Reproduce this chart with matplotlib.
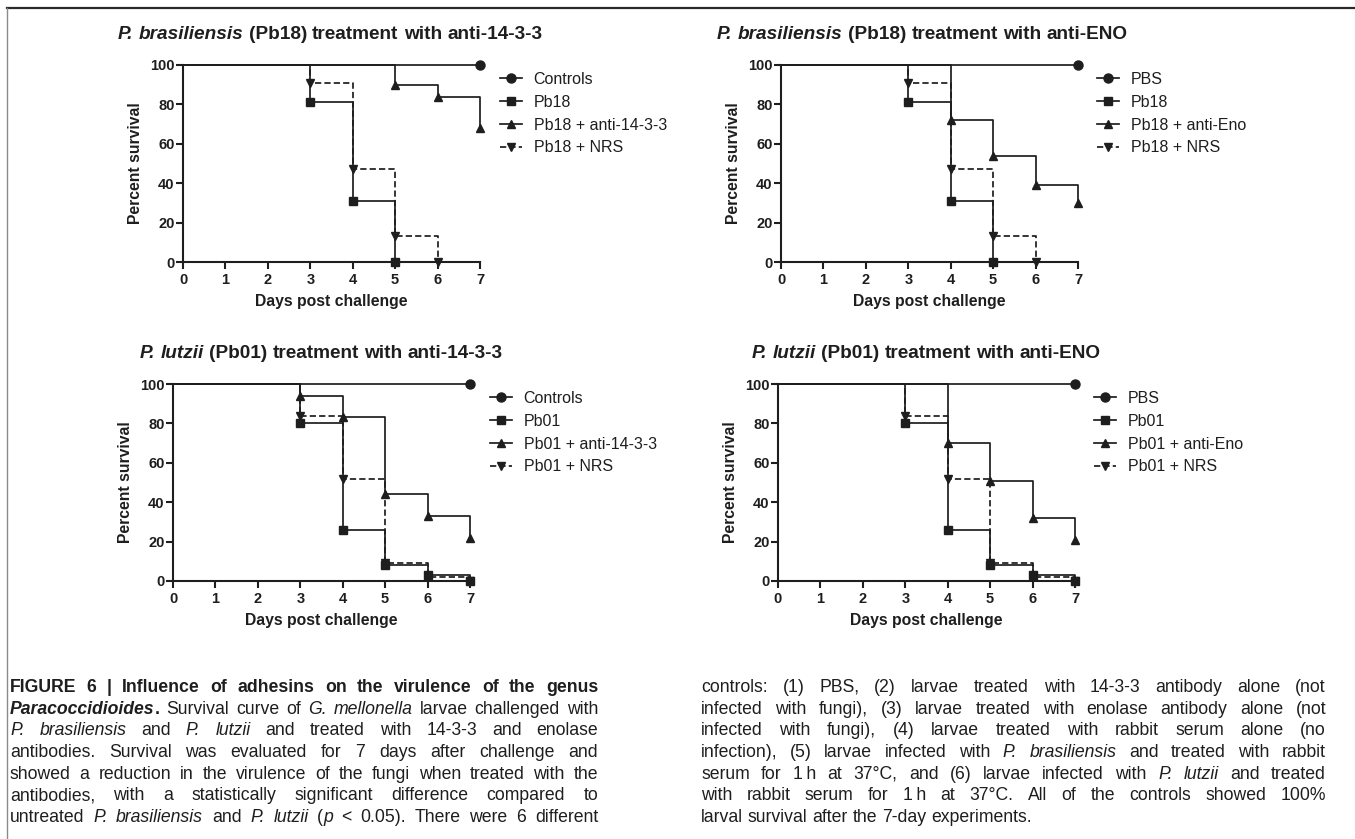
import matplotlib
matplotlib.use("Agg")
import matplotlib.pyplot as plt
from matplotlib.lines import Line2D

plt.rcParams['font.family'] = ['Liberation Sans', 'DejaVu Sans']

W, H = 1355, 839
INK = '#1e1e1e'

# ---- data (percent survival at each event day) ----
ctrl_days = [0, 7]
ctrl_surv = [100, 100]

# P. brasiliensis (Pb18)
pb18_days = [0, 3, 4, 5]
pb18_surv = [100, 81, 31, 0]
pb18_nrs_days = [0, 3, 4, 5, 6]
pb18_nrs_surv = [100, 91, 47, 13, 0]
pb18_1433_days = [0, 5, 6, 7]
pb18_1433_surv = [100, 90, 84, 68]
pb18_eno_days = [0, 4, 5, 6, 7]
pb18_eno_surv = [100, 72, 54, 39, 30]

# P. lutzii (Pb01)
pb01_days = [0, 3, 4, 5, 6, 7]
pb01_surv = [100, 80, 26, 8, 3, 0]
pb01_nrs_days = [0, 3, 4, 5, 6, 7]
pb01_nrs_surv = [100, 84, 52, 9, 2, 0]
pb01_1433_days = [0, 3, 4, 5, 6, 7]
pb01_1433_surv = [100, 94, 83, 44, 33, 22]
pb01_eno_days = [0, 4, 5, 6, 7]
pb01_eno_surv = [100, 70, 51, 32, 21]

x_ticks = [0, 1, 2, 3, 4, 5, 6, 7]
y_ticks = [0, 20, 40, 60, 80, 100]

fig = plt.figure(figsize=(W / 100, H / 100), dpi=100)
rend = fig.canvas.get_renderer()


def fx(x):
    return x / W


def fy(y):
    return 1 - y / H


STYLES = {'n': ('normal', 'normal'), 'b': ('bold', 'normal'),
          'i': ('normal', 'italic'), 'bi': ('bold', 'italic')}


def split_words(segs):
    words = [[]]
    for txt, st in segs:
        parts = txt.split(' ')
        for k, p in enumerate(parts):
            if k > 0:
                words.append([])
            if p:
                words[-1].append((p, st))
    return [w for w in words if w]


def rich(x, y, segs, size, family, width=None):
    # words placed one by one, baseline at pixel y; gaps stretched if width given
    words = split_words(segs)
    arts = []
    for w in words:
        wa = []
        for txt, st in w:
            wt, sl = STYLES[st]
            wa.append(fig.text(0, 0, txt, fontsize=size, family=family, fontweight=wt,
                               fontstyle=sl, va='baseline', ha='left', color=INK))
        arts.append(wa)
    probe1 = fig.text(0, 0, 'a a', fontsize=size, family=family)
    probe2 = fig.text(0, 0, 'aa', fontsize=size, family=family)
    space = probe1.get_window_extent(rend).width - probe2.get_window_extent(rend).width
    probe1.remove()
    probe2.remove()
    widths = [[t.get_window_extent(rend).width for t in wa] for wa in arts]
    total = sum(sum(ws) for ws in widths)
    gap = space
    if width is not None and len(arts) > 1:
        gap = (width - total) / (len(arts) - 1)
    cx = x
    for wa, ws in zip(arts, widths):
        for t, wdt in zip(wa, ws):
            t.set_position((fx(cx), fy(y)))
            cx += wdt
        cx += gap


def panel(left, bottom, title_x, title_segs, leg_x, leg_y, series):
    ax = fig.add_axes([fx(left), fy(bottom), 297 / W, 197 / H])
    for days, surv, label, mk, ls in series:
        ax.plot(days, surv, drawstyle='steps-post', color=INK, lw=1.25, ls=ls,
                marker=mk, ms=6.5 if mk == 'o' else 6, markevery=slice(1, None),
                clip_on=False, label=label, dash_capstyle='butt')
    ax.set_xlim(0, 7)
    ax.set_ylim(0, 100)
    for s in ['top', 'right']:
        ax.spines[s].set_visible(False)
    for s in ['left', 'bottom']:
        ax.spines[s].set_linewidth(1.5)
        ax.spines[s].set_color(INK)
    ax.set_xticks(x_ticks, labels=[str(v) for v in x_ticks], fontweight='bold', fontsize=10.5)
    ax.set_yticks(y_ticks, labels=[str(v) for v in y_ticks], fontweight='bold', fontsize=10.5)
    ax.tick_params(axis='x', length=5, width=1.5, pad=3, colors=INK)
    ax.tick_params(axis='y', length=5, width=1.5, pad=1, colors=INK)
    ax.set_xlabel('Days post challenge', fontweight='bold', fontsize=11.3, labelpad=5, color=INK)
    ax.set_ylabel('Percent survival', fontweight='bold', fontsize=11.3, labelpad=5, color=INK)
    ax.patch.set_alpha(0)
    leg = ax.legend(loc='upper left', bbox_to_anchor=(fx(leg_x), fy(leg_y)),
                    bbox_transform=fig.transFigure, frameon=False, fontsize=11.5,
                    borderpad=0, borderaxespad=0, handlelength=1.4,
                    handletextpad=0.7, labelspacing=0.49)
    for t in leg.get_texts():
        t.set_color(INK)
    rich(title_x, bottom - 223, title_segs, 13.7, ['Liberation Sans', 'DejaVu Sans'])
    return ax


dash = (0, (3.6, 1.8))

panel(183, 262, 118,
      [('P. brasiliensis', 'bi'), (' (Pb18) treatment with anti-14-3-3', 'b')],
      500, 72,
      [(ctrl_days, ctrl_surv, 'Controls', 'o', '-'),
       (pb18_days, pb18_surv, 'Pb18', 's', '-'),
       (pb18_1433_days, pb18_1433_surv, 'Pb18 + anti-14-3-3', '^', '-'),
       (pb18_nrs_days, pb18_nrs_surv, 'Pb18 + NRS', 'v', dash)])

panel(781, 262, 717,
      [('P. brasiliensis', 'bi'), (' (Pb18) treatment with anti-ENO', 'b')],
      1097, 72,
      [(ctrl_days, ctrl_surv, 'PBS', 'o', '-'),
       (pb18_days, pb18_surv, 'Pb18', 's', '-'),
       (pb18_eno_days, pb18_eno_surv, 'Pb18 + anti-Eno', '^', '-'),
       (pb18_nrs_days, pb18_nrs_surv, 'Pb18 + NRS', 'v', dash)])

panel(173, 581, 140,
      [('P. lutzii', 'bi'), (' (Pb01) treatment with anti-14-3-3', 'b')],
      490, 391,
      [(ctrl_days, ctrl_surv, 'Controls', 'o', '-'),
       (pb01_days, pb01_surv, 'Pb01', 's', '-'),
       (pb01_1433_days, pb01_1433_surv, 'Pb01 + anti-14-3-3', '^', '-'),
       (pb01_nrs_days, pb01_nrs_surv, 'Pb01 + NRS', 'v', dash)])

panel(778, 581, 752,
      [('P. lutzii', 'bi'), (' (Pb01) treatment with anti-ENO', 'b')],
      1094, 391,
      [(ctrl_days, ctrl_surv, 'PBS', 'o', '-'),
       (pb01_days, pb01_surv, 'Pb01', 's', '-'),
       (pb01_eno_days, pb01_eno_surv, 'Pb01 + anti-Eno', '^', '-'),
       (pb01_nrs_days, pb01_nrs_surv, 'Pb01 + NRS', 'v', dash)])

# ---- caption ----
cap_left = [
    [('FIGURE 6 | Influence of adhesins on the virulence of the genus', 'b')],
    [('Paracoccidioides', 'bi'), ('.', 'b'), (' Survival curve of ', 'n'),
     ('G. mellonella', 'i'), (' larvae challenged with', 'n')],
    [('P. brasiliensis', 'i'), (' and ', 'n'), ('P. lutzii', 'i'),
     (' and treated with 14-3-3 and enolase', 'n')],
    [('antibodies. Survival was evaluated for 7 days after challenge and', 'n')],
    [('showed a reduction in the virulence of the fungi when treated with the', 'n')],
    [('antibodies, with a statistically significant difference compared to', 'n')],
    [('untreated ', 'n'), ('P. brasiliensis', 'i'), (' and ', 'n'), ('P. lutzii', 'i'),
     (' (', 'n'), ('p', 'i'), (' < 0.05). There were 6 different', 'n')],
]
cap_right = [
    [('controls: (1) PBS, (2) larvae treated with 14-3-3 antibody alone (not', 'n')],
    [('infected with fungi), (3) larvae treated with enolase antibody alone (not', 'n')],
    [('infected with fungi), (4) larvae treated with rabbit serum alone (no', 'n')],
    [('infection), (5) larvae infected with ', 'n'), ('P. brasiliensis', 'i'),
     (' and treated with rabbit', 'n')],
    [('serum for 1\u2009h at 37\u00b0C, and (6) larvae infected with ', 'n'),
     ('P. lutzii', 'i'), (' and treated', 'n')],
    [('with rabbit serum for 1\u2009h at 37\u00b0C. All of the controls showed 100%', 'n')],
    [('larval survival after the 7-day experiments.', 'n')],
]

cap_font = ['Liberation Sans', 'DejaVu Sans']
for k, segs in enumerate(cap_left):
    rich(10, 692 + 21.7 * k, segs, 12.7, cap_font, width=588)
for k, segs in enumerate(cap_right):
    last = k == len(cap_right) - 1
    rich(701, 692 + 21.7 * k, segs, 12.7, cap_font, width=None if last else 625)

# frame lines of the figure page
fig.add_artist(Line2D([fx(7), 1], [fy(8), fy(8)], transform=fig.transFigure,
                      color='#2a2a2a', lw=1.6))
fig.add_artist(Line2D([fx(7), fx(7)], [fy(8), 0], transform=fig.transFigure,
                      color='#8a8a8a', lw=1.0))

fig.savefig('out.png', dpi=100)
